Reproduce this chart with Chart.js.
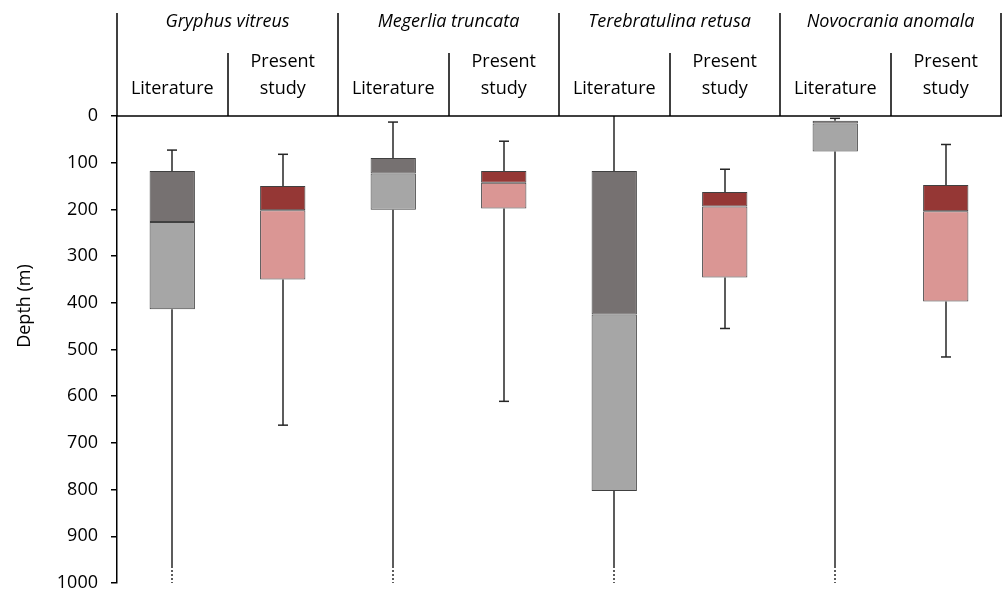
<!DOCTYPE html>
<html>
<head>
<meta charset="utf-8">
<script src="https://cdn.jsdelivr.net/npm/chart.js@4/dist/chart.umd.min.js"></script>
<style>
    body { margin: 0; background: #fff; }
    #wrap { width: 1002px; height: 592px; position: relative; }
</style>
</head>
<body>
<div id="wrap"><canvas id="depth-chart"></canvas></div>
<script>
// species and sources for the header
const species = ['Gryphus vitreus', 'Megerlia truncata', 'Terebratulina retusa', 'Novocrania anomala'];
const sources = ['Literature', 'Present study'];
const categories = ['Gv lit', 'Gv present', 'Mt lit', 'Mt present', 'Tr lit', 'Tr present', 'Na lit', 'Na present'];

// depth values (m), one per category
const whiskerMin = [73, 82, 13, 54, 0, 114, 5, 61];
const q1 = [118, 150, 90, 118, 118, 163, 10, 148];
const median = [227, 202, 123, 143, 425, 194, 16, 204];
const q3 = [414, 350, 201, 198, 803, 346, 76, 397];
const whiskerMax = [1000, 662, 1000, 611, 1000, 455, 1000, 516];
// literature ranges that go on past 1000 m
const beyondAxis = [true, false, true, false, true, false, true, false];

const yTicks = [0, 100, 200, 300, 400, 500, 600, 700, 800, 900, 1000];

const FONT = "'Open Sans', 'DejaVu Sans', sans-serif";
const darkColors = categories.map((c, i) => i % 2 === 0 ? '#767171' : '#953735');
const lightColors = categories.map((c, i) => i % 2 === 0 ? '#a6a6a6' : '#da9694');

// whiskers drawn behind the boxes
const whiskerPlugin = {
    id: 'whiskers',
    beforeDatasetsDraw(chart) {
        const ctx = chart.ctx;
        const x = chart.scales.x;
        const y = chart.scales.y;
        ctx.save();
        ctx.strokeStyle = '#262626';
        ctx.lineWidth = 1.5;
        categories.forEach((c, i) => {
            const cx = Math.round(x.getPixelForValue(i));
            const yMin = y.getPixelForValue(whiskerMin[i]);
            const yMax = y.getPixelForValue(whiskerMax[i]);
            const yQ1 = y.getPixelForValue(q1[i]);
            const yQ3 = y.getPixelForValue(q3[i]);
            // upper whisker + cap
            ctx.beginPath();
            ctx.moveTo(cx, yMin);
            ctx.lineTo(cx, yQ1);
            ctx.stroke();
            if (whiskerMin[i] > 0) {
                ctx.beginPath();
                ctx.moveTo(cx - 5, yMin);
                ctx.lineTo(cx + 5, yMin);
                ctx.stroke();
            }
            // lower whisker
            if (beyondAxis[i]) {
                ctx.beginPath();
                ctx.moveTo(cx, yQ3);
                ctx.lineTo(cx, yMax - 17);
                ctx.stroke();
                ctx.setLineDash([2, 2]);
                ctx.beginPath();
                ctx.moveTo(cx, yMax - 17);
                ctx.lineTo(cx, yMax);
                ctx.stroke();
                ctx.setLineDash([]);
            } else {
                ctx.beginPath();
                ctx.moveTo(cx, yQ3);
                ctx.lineTo(cx, yMax);
                ctx.stroke();
                ctx.beginPath();
                ctx.moveTo(cx - 5, yMax);
                ctx.lineTo(cx + 5, yMax);
                ctx.stroke();
            }
        });
        ctx.restore();
    }
};

// header table above the plot + y title
const headerPlugin = {
    id: 'header',
    afterDraw(chart) {
        const ctx = chart.ctx;
        const area = chart.chartArea;
        const step = (area.right - area.left) / categories.length;
        ctx.save();
        ctx.strokeStyle = '#000';
        ctx.lineWidth = 1.5;
        // top line of plot
        ctx.beginPath();
        ctx.moveTo(area.left, area.top);
        ctx.lineTo(area.right + 1, area.top);
        ctx.stroke();
        for (let i = 0; i <= categories.length; i++) {
            const lx = Math.round(area.left + i * step);
            ctx.beginPath();
            ctx.moveTo(lx, i % 2 === 0 ? 13 : 53);
            ctx.lineTo(lx, area.top);
            ctx.stroke();
        }
        ctx.fillStyle = '#000';
        ctx.textAlign = 'center';
        ctx.textBaseline = 'middle';
        ctx.font = 'italic 18px ' + FONT;
        species.forEach((s, i) => {
            ctx.fillText(s, area.left + (i * 2 + 1) * step, 22);
        });
        ctx.font = '18px ' + FONT;
        categories.forEach((c, i) => {
            const cx = area.left + (i + 0.5) * step;
            if (i % 2 === 0) {
                ctx.fillText(sources[0], cx, 89);
            } else {
                const words = sources[1].split(' ');
                ctx.fillText(words[0], cx, 62);
                ctx.fillText(words[1], cx, 89);
            }
        });
        // y axis title
        ctx.translate(25, 306);
        ctx.rotate(-Math.PI / 2);
        ctx.fillText('Depth (m)', 0, 0);
        ctx.restore();
    }
};

const chartEl = document.getElementById('depth-chart').getContext('2d');
const depthChart = new Chart(chartEl, {
    type: 'bar',
    data: {
        labels: categories,
        datasets: [{
            label: 'Q1 - median',
            data: q1.map((v, i) => [v, median[i]]),
            backgroundColor: darkColors,
            borderColor: '#404040',
            borderWidth: 1,
            borderSkipped: false
        }, {
            label: 'median - Q3',
            data: median.map((v, i) => [v, q3[i]]),
            backgroundColor: lightColors,
            borderColor: '#404040',
            borderWidth: 1,
            borderSkipped: false
        }]
    },
    options: {
        responsive: true,
        maintainAspectRatio: false,
        animation: false,
        layout: { padding: { left: 0, top: 116, right: 1, bottom: 9 } },
        datasets: {
            bar: { grouped: false, barPercentage: 0.41, categoryPercentage: 1 }
        },
        plugins: {
            legend: { display: false },
            tooltip: { enabled: false }
        },
        scales: {
            x: { display: false },
            y: {
                reverse: true,
                min: 0,
                max: 1000,
                afterBuildTicks: (scale) => {
                    scale.ticks = yTicks.map(v => ({ value: v }));
                },
                afterFit: (scale) => {
                    scale.width = 117;
                    // the 1000 label may hang below the plot, no extra room
                    scale.paddingTop = 0;
                    scale.paddingBottom = 0;
                },
                border: { display: true, color: '#000', width: 1.5 },
                grid: { drawOnChartArea: false, drawTicks: true, tickLength: 6, color: '#000', lineWidth: 1.5 },
                ticks: {
                    color: '#000',
                    padding: 13,
                    font: { family: FONT, size: 18 },
                    callback: (v) => String(v)
                }
            }
        }
    },
    plugins: [whiskerPlugin, headerPlugin]
});
</script>
</body>
</html>
